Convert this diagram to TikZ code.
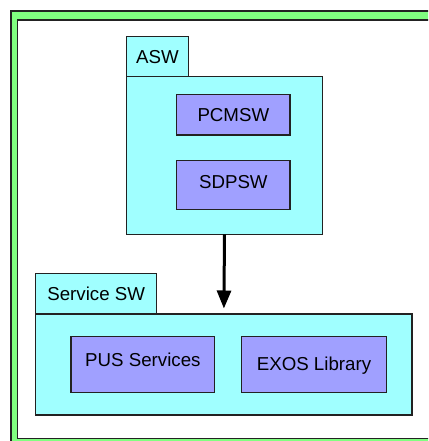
\documentclass[tikz,border=0pt]{standalone}
\usepackage{fontspec}
\setmainfont{Liberation Sans}
\usetikzlibrary{arrows.meta}
\definecolor{framegreen}{HTML}{80FF80}
\definecolor{pkgcyan}{HTML}{A0FFFF}
\definecolor{compblue}{HTML}{A0A0FF}
\definecolor{edge}{HTML}{222222}
\tikzset{
  box/.style={draw=edge, line width=1.3bp, inner sep=0pt, outer sep=0pt, anchor=north west,
    font=\fontsize{18.7bp}{22bp}\selectfont, text=black},
  pkg/.style={box, fill=pkgcyan},
  comp/.style={box, fill=compblue},
  dep/.style={line width=3bp, draw=black, -{Triangle[width=14bp,length=18bp]}, shorten >=5.5bp}
}
\begin{document}
\begin{tikzpicture}[x=1bp,y=-1bp]
\useasboundingbox (0,0) rectangle (428,441);
\clip (0,0) rectangle (428,441);
% outer frame
\fill[framegreen, even odd rule] (11,11) rectangle (445,455) (17.5,20) rectangle (436,438.5);
\draw[edge, line width=1.3bp] (11,11) rectangle (445,455);
\draw[edge, line width=1.3bp] (17.5,20) rectangle (436,438.5);
% ASW package
\node[pkg, minimum width=61.6bp, minimum height=40bp] (aswtab) at (126.7,36.7) {};
\node[font=\fontsize{18.7bp}{22bp}\selectfont] (aswlabel) at (aswtab.center) {ASW};
\node[pkg, minimum width=195.6bp, minimum height=157.6bp] (aswbody) at (126.7,76.7) {};
\node[comp, minimum width=113.3bp, minimum height=40.3bp] (pcmsw) at (176.7,94.7) {};
\node[font=\fontsize{18.7bp}{22bp}\selectfont] (pcmswlabel) at ([yshift=-0.7bp]pcmsw.center) {PCMSW};
\node[comp, minimum width=113.3bp, minimum height=48.6bp] (sdpsw) at (176.7,160.7) {};
\node[font=\fontsize{18.7bp}{22bp}\selectfont] (sdpswlabel) at ([yshift=2.5bp]sdpsw.center) {SDPSW};
% Service SW package
\node[pkg, minimum width=121bp, minimum height=40.7bp] (svctab) at (35.7,273.3) {};
\node[font=\fontsize{18.7bp}{22bp}\selectfont] (svclabel) at (svctab.center) {Service SW};
\node[pkg, minimum width=376.3bp, minimum height=101bp] (svcbody) at (35.7,314) {};
\node[comp, minimum width=143.7bp, minimum height=56.4bp] (pus) at (71,336.3) {};
\node[font=\fontsize{18.7bp}{22bp}\selectfont] (puslabel) at ([yshift=4.8bp]pus.center) {PUS Services};
\node[comp, minimum width=144.6bp, minimum height=56.4bp] (exos) at (241.7,336.3) {};
\node[font=\fontsize{18.7bp}{22bp}\selectfont] (exoslabel) at ([yshift=-1bp]exos.center) {EXOS Library};
% dependency arrow
\draw[dep] (aswbody.south) -- (svcbody.north);
\end{tikzpicture}
\end{document}
